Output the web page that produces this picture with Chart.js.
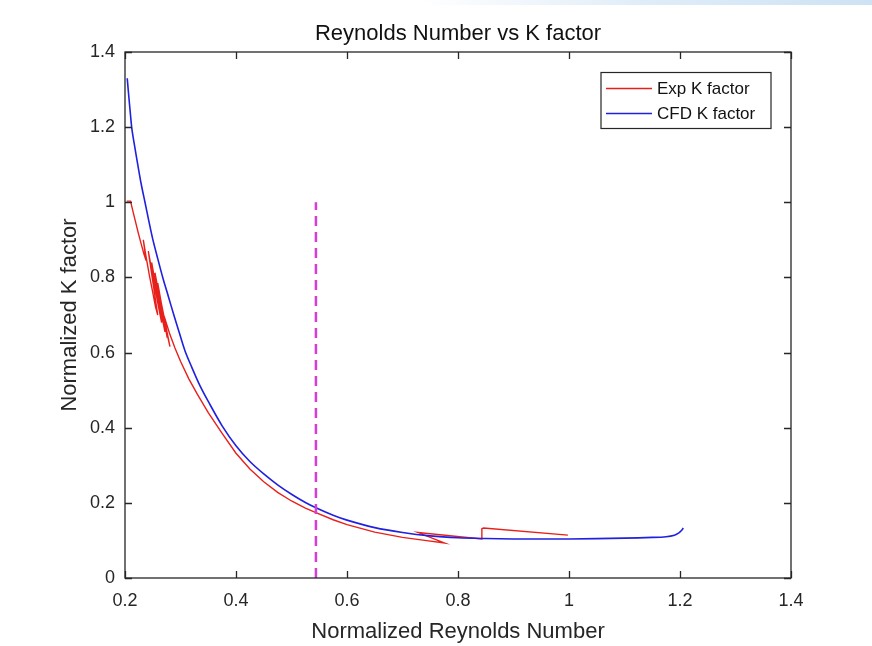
<!DOCTYPE html>
<html><head><meta charset="utf-8">
<script src="https://cdn.jsdelivr.net/npm/chart.js@4.4.0/dist/chart.umd.min.js"></script>
<style>html,body{margin:0;padding:0;background:#fff;}#wrap{width:872px;height:646px;position:relative;}</style>
</head><body><div id="wrap"><canvas id="c" width="872" height="646"></canvas></div>
<script>
const chartTitle = 'Reynolds Number vs K factor';
const xLabel = 'Normalized Reynolds Number';
const yLabel = 'Normalized K factor';
const seriesLabels = ['Exp K factor', 'CFD K factor'];
const xTicks = [0.2, 0.4, 0.6, 0.8, 1, 1.2, 1.4];
const yTicks = [0, 0.2, 0.4, 0.6, 0.8, 1, 1.2, 1.4];

const expX = [0.203,0.210,0.214,0.219,0.224,0.229,0.234,0.238,
  0.233,0.238,0.244,0.250,0.255,0.259,
  0.242,0.248,0.254,0.260,0.266,
  0.248,0.254,0.260,0.266,0.272,
  0.254,0.260,0.266,0.272,0.276,
  0.259,0.265,0.271,0.277,0.281,
  0.266,0.272,0.280,0.290,0.300,0.315,0.330,0.350,0.375,0.400,0.425,0.450,0.475,0.500,0.525,0.544,0.575,0.600,0.650,0.700,0.740,0.776,
  0.728,0.843,0.843,0.846,0.998];
const expY = [1.003,1.003,0.978,0.948,0.918,0.890,0.863,0.845,
  0.900,0.855,0.805,0.760,0.722,0.700,
  0.870,0.820,0.772,0.725,0.680,
  0.840,0.790,0.745,0.700,0.655,
  0.812,0.765,0.720,0.675,0.640,
  0.785,0.735,0.690,0.645,0.616,
  0.715,0.690,0.652,0.612,0.577,0.530,0.490,0.440,0.385,0.332,0.290,0.256,0.228,0.205,0.186,0.174,0.155,0.142,0.122,0.108,0.100,0.093,
  0.121,0.104,0.131,0.133,0.114];

const cfdX = [0.204,0.206,0.208,0.210,0.212,0.215,0.219,0.223,0.229,0.236,0.243,0.250,0.259,0.268,0.278,0.288,0.298,0.308,0.320,0.335,0.350,0.375,0.400,0.425,0.450,0.475,0.500,0.525,0.544,0.575,0.600,0.650,0.700,0.750,0.800,0.850,0.900,1.000,1.100,1.150,1.175,1.190,1.198,1.203,1.206];
const cfdY = [1.330,1.296,1.263,1.231,1.200,1.170,1.135,1.100,1.050,1.000,0.950,0.902,0.850,0.800,0.750,0.700,0.652,0.605,0.562,0.512,0.470,0.405,0.352,0.310,0.277,0.248,0.223,0.201,0.187,0.167,0.154,0.134,0.121,0.112,0.107,0.105,0.104,0.104,0.106,0.108,0.110,0.114,0.120,0.127,0.133];

const markerX = [0.544, 0.544];
const markerY = [0, 1.0];

const toPts = (xs, ys) => xs.map((x, i) => ({x: x, y: ys[i]}));
const FAM = '"Liberation Sans", Arial, Helvetica, sans-serif';
const AXC = '#262626';
const fmt = v => String(+Number(v).toFixed(2));

const framePlugin = {
  id: 'frame',
  beforeDraw(chart) {
    const ctx = chart.ctx;
    ctx.save();
    ctx.fillStyle = '#fff';
    ctx.fillRect(0, 0, chart.width, chart.height);
    const g = ctx.createLinearGradient(420, 0, 872, 0);
    g.addColorStop(0, 'rgba(215,232,246,0)');
    g.addColorStop(0.5, 'rgba(215,232,246,0.8)');
    g.addColorStop(1, 'rgba(205,226,244,1)');
    ctx.fillStyle = g;
    ctx.fillRect(420, 0, 452, 5);
    ctx.restore();
  },
  afterDatasetsDraw(chart) {
    const ctx = chart.ctx, a = chart.chartArea;
    const xs = chart.scales.x, ys = chart.scales.y;
    ctx.save();
    ctx.strokeStyle = AXC;
    ctx.lineWidth = 1.3;
    const tl = 7;
    ctx.beginPath();
    xTicks.forEach(v => {
      const px = Math.round(xs.getPixelForValue(v)) + 0.5;
      ctx.moveTo(px, a.bottom); ctx.lineTo(px, a.bottom - tl);
      ctx.moveTo(px, a.top); ctx.lineTo(px, a.top + tl);
    });
    yTicks.forEach(v => {
      const py = Math.round(ys.getPixelForValue(v)) + 0.5;
      ctx.moveTo(a.left, py); ctx.lineTo(a.left + tl, py);
      ctx.moveTo(a.right, py); ctx.lineTo(a.right - tl, py);
    });
    ctx.stroke();
    ctx.strokeRect(a.left, a.top, a.right - a.left, a.bottom - a.top);
    // title
    ctx.fillStyle = '#111';
    ctx.font = '22px ' + FAM;
    ctx.textAlign = 'center';
    ctx.textBaseline = 'middle';
    ctx.fillText(chartTitle, (a.left + a.right) / 2, 34);
    // legend
    const lx = 601, ly = 72.5, lw = 170, lh = 56;
    ctx.fillStyle = '#fff';
    ctx.fillRect(lx, ly, lw, lh);
    ctx.strokeStyle = AXC;
    ctx.lineWidth = 1.2;
    ctx.strokeRect(lx, ly, lw, lh);
    const ds = chart.data.datasets;
    [0, 1].forEach(i => {
      const yy = ly + 16 + i * 25;
      ctx.strokeStyle = ds[i].borderColor;
      ctx.lineWidth = 1.5;
      ctx.beginPath(); ctx.moveTo(lx + 5, yy); ctx.lineTo(lx + 51, yy); ctx.stroke();
      ctx.fillStyle = '#111';
      ctx.font = '17px ' + FAM;
      ctx.textAlign = 'left';
      ctx.textBaseline = 'middle';
      ctx.fillText(ds[i].label, lx + 56, yy + 1);
    });
    ctx.restore();
  }
};

new Chart(document.getElementById('c'), {
  type: 'scatter',
  data: {
    datasets: [
      {label: seriesLabels[0], data: toPts(expX, expY), showLine: true, borderColor: '#e8201c', borderWidth: 1.4, pointRadius: 0, tension: 0, order: 3},
      {label: seriesLabels[1], data: toPts(cfdX, cfdY), showLine: true, borderColor: '#2020e0', borderWidth: 1.6, pointRadius: 0, tension: 0.3, order: 2},
      {label: 'marker', data: toPts(markerX, markerY), showLine: true, borderColor: '#d63cd6', borderWidth: 2.5, borderDash: [10, 6], pointRadius: 0, tension: 0, order: 1}
    ]
  },
  options: {
    responsive: false,
    animation: false,
    events: [],
    layout: {padding: {left: 0, right: 81, top: 52, bottom: 0}},
    plugins: {legend: {display: false}, tooltip: {enabled: false}, title: {display: false}},
    scales: {
      x: {
        type: 'linear', min: 0.2, max: 1.4,
        afterBuildTicks: s => { s.ticks = xTicks.map(v => ({value: v})); },
        afterFit: s => { s.height = 68; },
        grid: {display: false, drawTicks: false}, border: {display: false},
        ticks: {callback: v => fmt(v), color: AXC, font: {size: 18, family: FAM}, padding: 12, maxRotation: 0, autoSkip: false},
        title: {display: true, text: xLabel, color: AXC, font: {size: 22, family: FAM}, padding: {top: 0, bottom: 1}}
      },
      y: {
        type: 'linear', min: 0, max: 1.4,
        afterBuildTicks: s => { s.ticks = yTicks.map(v => ({value: v})); },
        afterFit: s => { s.width = 125; },
        grid: {display: false, drawTicks: false}, border: {display: false},
        ticks: {callback: v => fmt(v), color: AXC, font: {size: 18, family: FAM}, padding: 10, autoSkip: false},
        title: {display: true, text: yLabel, color: AXC, font: {size: 22, family: FAM}, padding: {top: 57, bottom: 0}}
      }
    }
  },
  plugins: [framePlugin]
});
</script></body></html>
